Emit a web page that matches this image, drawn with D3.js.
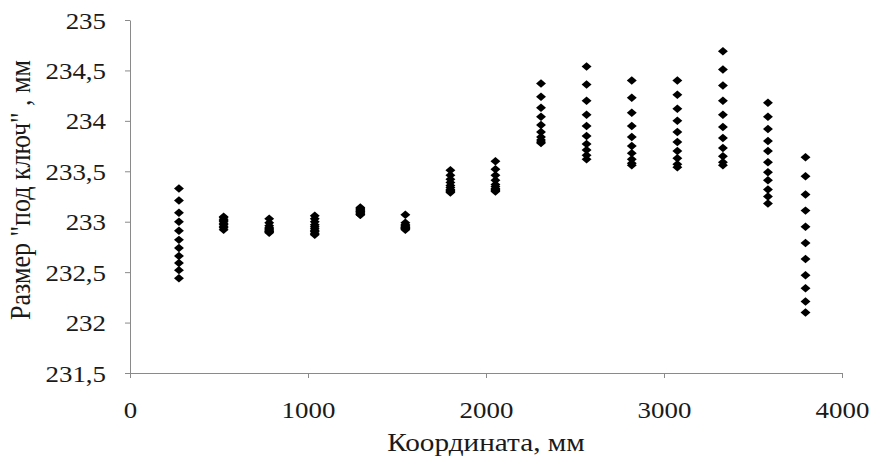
<!DOCTYPE html>
<html>
<head>
<meta charset="utf-8">
<script src="https://cdn.jsdelivr.net/npm/d3@7"></script>
<style>
  body { margin: 0; background: #fff; }
</style>
</head>
<body>
<svg id="chart" width="871" height="457"></svg>
<script>
const xTicks = [0, 1000, 2000, 3000, 4000];
const xTickLabels = ['0', '1000', '2000', '3000', '4000'];
const yTicks = [231.5, 232, 232.5, 233, 233.5, 234, 234.5, 235];
const yTickLabels = ['231,5', '232', '232,5', '233', '233,5', '234', '234,5', '235'];

// measuring positions along the part, mm
const coords = [275, 526, 782, 1038, 1294, 1547, 1800, 2053, 2309, 2565, 2819, 3075, 3331, 3584, 3795];

// measured "across flats" size at each position, mm
const sizes = [
  [233.33, 233.21, 233.09, 233.00, 232.91, 232.82, 232.74, 232.66, 232.59, 232.52, 232.44],
  [233.05, 233.04, 233.02, 233.01, 233.00, 232.98, 232.97, 232.95, 232.94, 232.92],
  [233.03, 232.99, 232.96, 232.94, 232.93, 232.92, 232.91, 232.90, 232.90, 232.89],
  [233.06, 233.03, 233.00, 232.97, 232.95, 232.93, 232.91, 232.90, 232.88, 232.87],
  [233.14, 233.13, 233.12, 233.11, 233.10, 233.10, 233.09, 233.08, 233.07, 233.07],
  [233.07, 232.99, 232.97, 232.96, 232.95, 232.94, 232.94, 232.93, 232.93, 232.92],
  [233.51, 233.46, 233.42, 233.39, 233.36, 233.34, 233.32, 233.31, 233.30, 233.29],
  [233.60, 233.52, 233.46, 233.41, 233.37, 233.35, 233.33, 233.32, 233.31, 233.30],
  [234.37, 234.24, 234.13, 234.04, 233.96, 233.89, 233.84, 233.81, 233.79, 233.78],
  [234.54, 234.36, 234.20, 234.06, 233.95, 233.85, 233.77, 233.71, 233.66, 233.62],
  [234.40, 234.23, 234.08, 233.95, 233.84, 233.75, 233.68, 233.62, 233.58, 233.56],
  [234.40, 234.26, 234.12, 234.00, 233.89, 233.79, 233.70, 233.63, 233.57, 233.54],
  [234.69, 234.51, 234.35, 234.20, 234.06, 233.94, 233.83, 233.73, 233.65, 233.59, 233.56],
  [234.18, 234.04, 233.92, 233.80, 233.70, 233.59, 233.49, 233.41, 233.32, 233.25, 233.18],
  [233.64, 233.45, 233.27, 233.11, 232.95, 232.79, 232.63, 232.47, 232.34, 232.21, 232.10]
];

const points = coords.flatMap((c, i) => sizes[i].map(v => ({ x: c, v })));

const stretch = 1.17; // the picture is widened horizontally
const axisColor = '#8a8a8a';
const serif = "'Liberation Serif', 'Times New Roman', serif";

const x = d3.scaleLinear().domain([0, 4000]).range([130, 842]);
const y = d3.scaleLinear().domain([231.5, 235]).range([373, 20]);

const svg = d3.select('#chart');

// y axis
const gy = svg.append('g')
  .attr('transform', `translate(${x(0)},0)`)
  .call(d3.axisLeft(y)
    .tickValues(yTicks)
    .tickFormat((d, i) => yTickLabels[i])
    .tickSize(5)
    .tickSizeOuter(0))
gy.select('.domain').attr('stroke', axisColor)
gy.selectAll('.tick line').attr('stroke', axisColor)
gy.selectAll('.tick text')
  .attr('x', -24 / stretch)
  .attr('dy', '0.35em')
  .attr('transform', `scale(${stretch},1)`)
  .style('font-size', '23px')
  .style('font-family', serif)
  .style('fill', '#1a1a1a')

// x axis
const gx = svg.append('g')
  .attr('transform', `translate(0,${y(231.5)})`)
  .call(d3.axisBottom(x)
    .tickValues(xTicks)
    .tickFormat((d, i) => xTickLabels[i])
    .tickSize(5)
    .tickSizeOuter(0))
gx.select('.domain').attr('stroke', axisColor)
gx.selectAll('.tick line').attr('stroke', axisColor)
gx.selectAll('.tick text')
  .attr('y', 45)
  .attr('dy', 0)
  .attr('transform', `scale(${stretch},1)`)
  .style('font-size', '23px')
  .style('font-family', serif)
  .style('fill', '#1a1a1a')

// axis titles
svg.append('text')
  .attr('transform', `translate(${(x(0) + x(4000)) / 2},451) scale(${stretch},1)`)
  .attr('text-anchor', 'middle')
  .style('font-size', '25px')
  .style('font-family', serif)
  .style('fill', '#1a1a1a')
  .text('Координата, мм')

svg.append('text')
  .attr('transform', `translate(30,190) scale(${stretch},1) rotate(-90)`)
  .attr('text-anchor', 'middle')
  .style('font-size', '26px')
  .style('font-family', serif)
  .style('fill', '#1a1a1a')
  .text('Размер "под ключ" , мм')

// points
svg.append('g')
  .selectAll('path')
  .data(points)
  .join('path')
  .attr('d', d3.symbol(d3.symbolSquare, 36))
  .attr('transform', d => `translate(${x(d.x)},${y(d.v)}) scale(${stretch},1) rotate(45)`)
  .attr('fill', '#000')
</script>
</body>
</html>
